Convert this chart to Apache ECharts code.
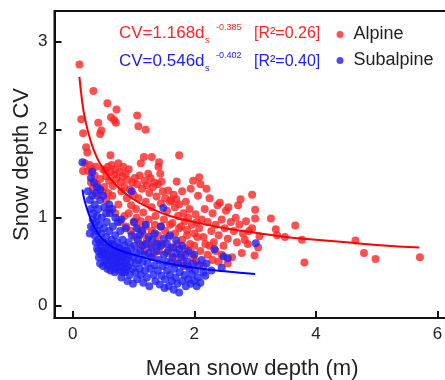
<!DOCTYPE html>
<html><head><meta charset="utf-8">
<script src="https://cdn.jsdelivr.net/npm/echarts@6/dist/echarts.min.js"></script>
<style>html,body{margin:0;padding:0;background:#fff}#c{width:445px;height:380px}</style>
</head><body><div id="c"></div>
<script>
const xTicks = [0, 2, 4, 6];
const yTicks = [0, 1, 2, 3];
const seriesNames = ['Alpine', 'Subalpine'];
const alpineEq = ['CV=1.168d', 's', '-0.385', '[R²=0.26]'];
const subalpineEq = ['CV=0.546d', 's', '-0.402', '[R²=0.40]'];

const alpine = [
[0.11,2.74],[0.34,2.44],[0.57,2.30],[0.72,2.23],[0.63,2.14],[0.68,2.11],[0.71,2.08],[0.42,2.08],[0.47,1.99],[0.45,1.95],[1.06,2.16],[1.08,2.04],[1.20,2.00],[0.14,2.12],[0.17,1.96],[0.22,1.80],[0.24,1.74],[0.17,1.53],[0.25,1.53],[0.62,1.71],[1.75,1.71],[1.17,1.69],[1.30,1.69],[1.42,1.63],[2.08,1.46],
[0.30,1.40],[0.33,1.33],[0.36,1.48],[0.40,1.38],[0.45,1.44],[0.50,1.55],[0.53,1.54],[0.55,1.47],[0.58,1.58],[0.60,1.42],[0.62,1.52],[0.64,1.60],[0.66,1.36],[0.68,1.49],[0.70,1.55],[0.72,1.44],[0.75,1.62],[0.77,1.52],[0.79,1.40],[0.80,1.30],[0.82,1.47],[0.83,1.58],[0.85,1.35],[0.87,1.50],[0.89,1.22],[0.90,1.43],[0.92,1.55],[0.94,1.32],[0.96,1.14],[0.98,1.40],[1.00,1.26],[1.02,1.45],[1.04,1.10],[1.06,1.38],[1.08,1.22],[1.10,1.48],[1.12,1.62],[1.14,1.33],[1.16,1.06],[1.18,1.42],[1.20,1.18],[1.22,1.37],[1.24,1.50],[1.26,1.28],[1.28,1.45],[1.30,1.12],[1.32,1.35],[1.34,1.40],[1.36,1.02],[1.38,1.24],[1.40,1.38],[1.41,1.58],[1.44,1.50],[1.45,1.16],[1.46,1.41],[1.48,1.30],[1.50,0.98],[1.52,1.22],[1.55,1.08],[1.57,1.31],[1.60,1.18],[1.62,1.20],[1.64,0.94],[1.66,1.26],[1.68,1.12],[1.70,1.21],[1.71,1.41],[1.73,1.02],[1.75,1.15],[1.78,0.90],[1.80,1.30],[1.82,1.05],[1.84,0.96],[1.86,1.18],[1.88,0.86],[1.90,1.00],[1.92,1.10],[1.94,1.33],[1.96,0.92],[1.98,1.42],[2.00,0.82],[2.02,1.04],[2.04,0.95],[2.06,1.25],[2.08,0.88],[2.10,1.38],[2.12,0.98],[2.15,0.78],[2.17,1.10],[2.20,1.33],[2.22,0.95],[2.25,1.22],[2.28,0.85],[2.30,1.05],[2.32,0.72],[2.35,0.92],[2.38,1.14],[2.40,0.80],[2.42,1.17],[2.45,0.98],[2.48,0.68],[2.50,0.88],[2.52,1.08],[2.55,0.76],[2.56,1.12],[2.60,0.95],[2.62,0.55],[2.65,0.85],[2.68,1.00],[2.70,0.72],[2.72,1.14],[2.74,0.92],[2.76,1.21],[2.78,0.60],[2.80,0.82],[2.83,0.75],[2.85,0.96],[2.88,0.70],[2.90,0.85],[2.95,1.26],[2.95,0.88],[3.00,1.09],[3.00,0.99],[3.05,0.66],[3.07,0.79],[2.99,0.57],[3.26,0.99],[3.34,0.87],[3.36,0.80],[3.49,0.78],[3.66,0.91],[3.77,0.75],[3.81,0.49],[4.65,0.74],[4.79,0.60],[4.98,0.53],[5.71,0.55],
[0.55,1.20],[0.60,1.10],[0.65,1.25],[0.70,1.05],[0.75,1.15],[0.78,0.95],[0.85,1.02],[0.88,0.90],[0.92,1.05],[0.95,0.85],[1.00,0.95],[1.02,0.78],[1.05,1.00],[1.08,0.88],[1.10,0.70],[1.12,0.96],[1.15,0.82],[1.18,0.62],[1.20,0.90],[1.22,0.75],[1.25,0.98],[1.28,0.68],[1.30,0.85],[1.33,0.58],[1.35,0.92],[1.38,0.72],[1.40,0.80],[1.42,0.62],[1.45,0.90],[1.48,0.70],[1.52,0.85],[1.55,0.60],[1.58,0.78],[1.60,0.92],[1.62,0.66],[1.65,0.55],[1.68,0.82],[1.70,0.48],[1.72,0.70],[1.75,0.88],[1.78,0.58],[1.80,0.75],[1.82,0.50],[1.85,0.65],[1.88,0.80],[1.90,0.45],[1.93,0.70],[1.95,0.60],[1.98,0.55],[2.00,0.68],[2.03,0.50],[2.05,0.78],[2.10,0.62],[2.15,0.45],[2.18,0.70],[2.22,0.58],[2.25,0.68],[2.30,0.52],[2.35,0.62],[2.40,0.50],[2.45,0.58],[2.55,0.48],
[0.20,1.62],[0.28,1.60],[0.32,1.55],[0.38,1.58],[0.40,1.25],[0.48,1.30],[0.52,1.35],[0.58,1.28]
];

const subalpine = [
[0.16,1.63],[0.32,1.52],[0.30,1.45],[0.35,1.40],[0.40,1.35],[0.97,1.30],[1.49,1.11],[3.01,0.71],[2.33,0.64],[2.48,0.56],[2.55,0.54],[2.45,0.43],[2.28,0.40],[2.20,0.48],[2.12,0.52],
[0.25,1.30],[0.28,1.20],[0.30,1.10],[0.32,1.25],[0.34,1.05],[0.36,1.15],[0.38,0.95],[0.38,1.28],[0.40,0.85],[0.42,1.10],[0.42,0.75],[0.44,0.92],[0.45,1.20],[0.46,0.68],[0.47,0.82],[0.48,1.00],[0.50,0.58],[0.50,0.72],[0.51,0.88],[0.52,1.12],[0.53,0.50],[0.54,0.65],[0.55,0.78],[0.56,0.95],[0.57,0.42],[0.58,0.58],[0.59,0.70],[0.60,0.85],[0.61,1.05],[0.62,0.52],[0.63,0.62],[0.64,0.75],[0.65,0.45],[0.66,0.90],[0.67,0.55],[0.68,0.68],[0.69,0.38],[0.70,0.80],[0.71,0.60],[0.72,0.48],[0.73,0.72],[0.74,0.95],[0.75,0.55],[0.76,0.40],[0.77,0.65],[0.78,0.85],[0.79,0.50],[0.80,0.32],[0.81,0.60],[0.82,0.75],[0.83,0.45],[0.84,0.55],[0.85,0.68],[0.86,0.38],[0.87,0.88],[0.88,0.52],[0.89,0.62],[0.90,0.28],[0.91,0.44],[0.92,0.72],[0.93,0.58],[0.94,0.35],[0.95,0.50],[0.96,0.65],[0.97,0.80],[0.98,0.42],[0.99,0.25],[1.00,0.55],[1.01,0.95],[1.02,0.68],[1.03,0.38],[1.04,0.48],[1.05,0.60],[1.06,0.30],[1.07,0.75],[1.08,0.52],[1.10,0.42],[1.11,0.62],[1.12,0.35],[1.14,0.85],[1.15,0.50],[1.16,0.26],[1.18,0.58],[1.19,0.40],[1.20,0.70],[1.22,0.32],[1.23,0.48],[1.25,0.60],[1.26,0.22],[1.28,0.42],[1.30,0.55],[1.31,0.75],[1.33,0.35],[1.35,0.46],[1.36,0.28],[1.38,0.62],[1.40,0.40],[1.42,0.52],[1.43,0.24],[1.45,0.68],[1.46,0.34],[1.48,0.45],[1.50,0.58],[1.51,0.20],[1.52,0.30],[1.54,0.50],[1.55,0.40],[1.57,0.62],[1.58,0.22],[1.60,0.35],[1.61,0.48],[1.63,0.28],[1.64,0.55],[1.66,0.18],[1.67,0.42],[1.69,0.32],[1.70,0.60],[1.72,0.25],[1.73,0.48],[1.75,0.15],[1.76,0.38],[1.78,0.55],[1.80,0.28],[1.82,0.45],[1.84,0.35],[1.86,0.22],[1.88,0.50],[1.90,0.30],[1.92,0.42],[1.94,0.25],[1.96,0.36],[1.98,0.48],[2.00,0.28],[2.02,0.40],[2.04,0.22],[2.06,0.32],[2.08,0.46],[2.10,0.26],[2.15,0.38],[2.18,0.34],
[0.43,0.55],[0.45,0.48],[0.48,0.62],[0.50,0.45],[0.52,0.60],[0.55,0.52],[0.57,0.66],[0.58,0.46],[0.60,0.55],[0.62,0.40],[0.63,0.70],[0.65,0.58],[0.67,0.48],[0.68,0.62],[0.70,0.42],[0.72,0.58],[0.74,0.50],[0.76,0.66],[0.78,0.44],[0.80,0.55],[0.82,0.38],[0.84,0.62],[0.86,0.48],[0.88,0.42],[0.90,0.58],[0.40,0.65],[0.42,0.62],[0.45,0.72],[0.47,0.58],[0.36,0.80],[0.38,0.72],[0.35,0.88],
[1.05,0.88],[1.10,0.80],[1.15,0.68],[1.20,0.92],[1.25,0.78],[1.30,0.66],[1.35,0.82],[1.40,0.70],[1.45,0.90],[1.50,0.76],[1.55,0.70],[1.60,0.80],[1.65,0.66],[1.70,0.74],[1.75,0.64],[1.80,0.68],[1.85,0.58],[1.90,0.62],[2.00,0.58],[0.80,0.98],[0.70,1.00],[0.60,1.15],[0.55,1.05],[0.65,1.10],[0.50,1.25],[0.45,1.32],[0.40,1.02],[0.33,0.98],[0.30,0.90],[0.28,0.82]
];

const alpineFit = [[0.11,2.60],[0.15,2.35],[0.2,2.13],[0.3,1.86],[0.4,1.68],[0.5,1.56],[0.7,1.38],[1.0,1.21],[1.3,1.10],[1.6,1.02],[2.0,0.95],[2.5,0.88],[3.0,0.83],[3.5,0.78],[4.0,0.75],[4.5,0.72],[5.0,0.69],[5.7,0.66]];
const subalpineFit = [[0.16,1.32],[0.2,1.18],[0.28,1.01],[0.35,0.90],[0.45,0.79],[0.55,0.72],[0.7,0.65],[1.0,0.58],[1.5,0.49],[2.0,0.43],[2.5,0.39],[3.0,0.36]];

const RED = '#ff2424', BLUE = '#2020f5';
const FONT = '"Liberation Sans", Arial, sans-serif';

function eqTexts(eq, color, cy) {
  const f = 'normal 17px ' + FONT, f2 = 'normal 16px ' + FONT, fs = 'normal 9px ' + FONT;
  return [
    {type:'text', x:119, y:cy, style:{text:eq[0], font:f, fill:color, align:'left', verticalAlign:'middle'}},
    {type:'text', x:205, y:cy+7, style:{text:eq[1], font:fs, fill:color, align:'left', verticalAlign:'middle'}},
    {type:'text', x:216, y:cy-6, style:{text:eq[2], font:fs, fill:color, align:'left', verticalAlign:'middle'}},
    {type:'text', x:254, y:cy, style:{text:eq[3], font:f2, fill:color, align:'left', verticalAlign:'middle'}}
  ];
}

const chart = echarts.init(document.getElementById('c'), null, {renderer:'canvas'});
chart.setOption({
  animation: false,
  backgroundColor: '#fff',
  textStyle: {fontFamily: FONT},
  grid: {left: 54.5, top: 10.9, width: 395.2, height: 307.1, show: true, borderColor: '#111', borderWidth: 2, containLabel: false, outerBoundsMode: 'none'},
  legend: {
    data: seriesNames, orient: 'vertical', left: 336.5, top: 25, padding: 0,
    itemWidth: 7, itemHeight: 7, itemGap: 7, icon: 'circle',
    textStyle: {fontSize: 18, color: '#222', lineHeight: 19, fontFamily: FONT, padding: [0, 0, 0, 5]}
  },
  xAxis: {
    type: 'value', min: -0.3, max: 6.2,
    name: 'Mean snow depth (m)', nameLocation: 'middle', nameGap: 40, nameMoveOverlap: false,
    nameTextStyle: {fontSize: 22, color: '#222', fontFamily: FONT},
    axisLine: {show: true, onZero: false, lineStyle: {color: '#111', width: 2}},
    axisTick: {show: true, inside: true, length: 7, lineStyle: {color: '#111', width: 2}, customValues: xTicks},
    axisLabel: {fontSize: 17, color: '#222', margin: 8, customValues: xTicks},
    splitLine: {show: false}
  },
  yAxis: {
    type: 'value', min: -0.14, max: 3.35,
    name: 'Snow depth CV', nameLocation: 'middle', nameGap: 22, nameMoveOverlap: false,
    nameTextStyle: {fontSize: 22, color: '#222', fontFamily: FONT},
    axisLine: {show: true, onZero: false, lineStyle: {color: '#111', width: 2}},
    axisTick: {show: true, inside: true, length: 7, lineStyle: {color: '#111', width: 2}, customValues: yTicks},
    axisLabel: {fontSize: 17, color: '#222', margin: 7, customValues: yTicks},
    splitLine: {show: false}
  },
  graphic: eqTexts(alpineEq, RED, 33.5).concat(eqTexts(subalpineEq, BLUE, 61.5)),
  series: [
    {name: seriesNames[0], type: 'scatter', data: alpine, symbol: 'circle', symbolSize: 8,
     itemStyle: {color: RED, opacity: 0.8}},
    {name: seriesNames[1], type: 'scatter', data: subalpine, symbol: 'circle', symbolSize: 8,
     itemStyle: {color: BLUE, opacity: 0.8}},
    {name: 'Alpine fit', type: 'line', data: alpineFit, smooth: true, showSymbol: false,
     lineStyle: {color: '#ff0000', width: 2}, z: 5},
    {name: 'Subalpine fit', type: 'line', data: subalpineFit, smooth: true, showSymbol: false,
     lineStyle: {color: '#0000ff', width: 2}, z: 5}
  ]
});
</script></body></html>
